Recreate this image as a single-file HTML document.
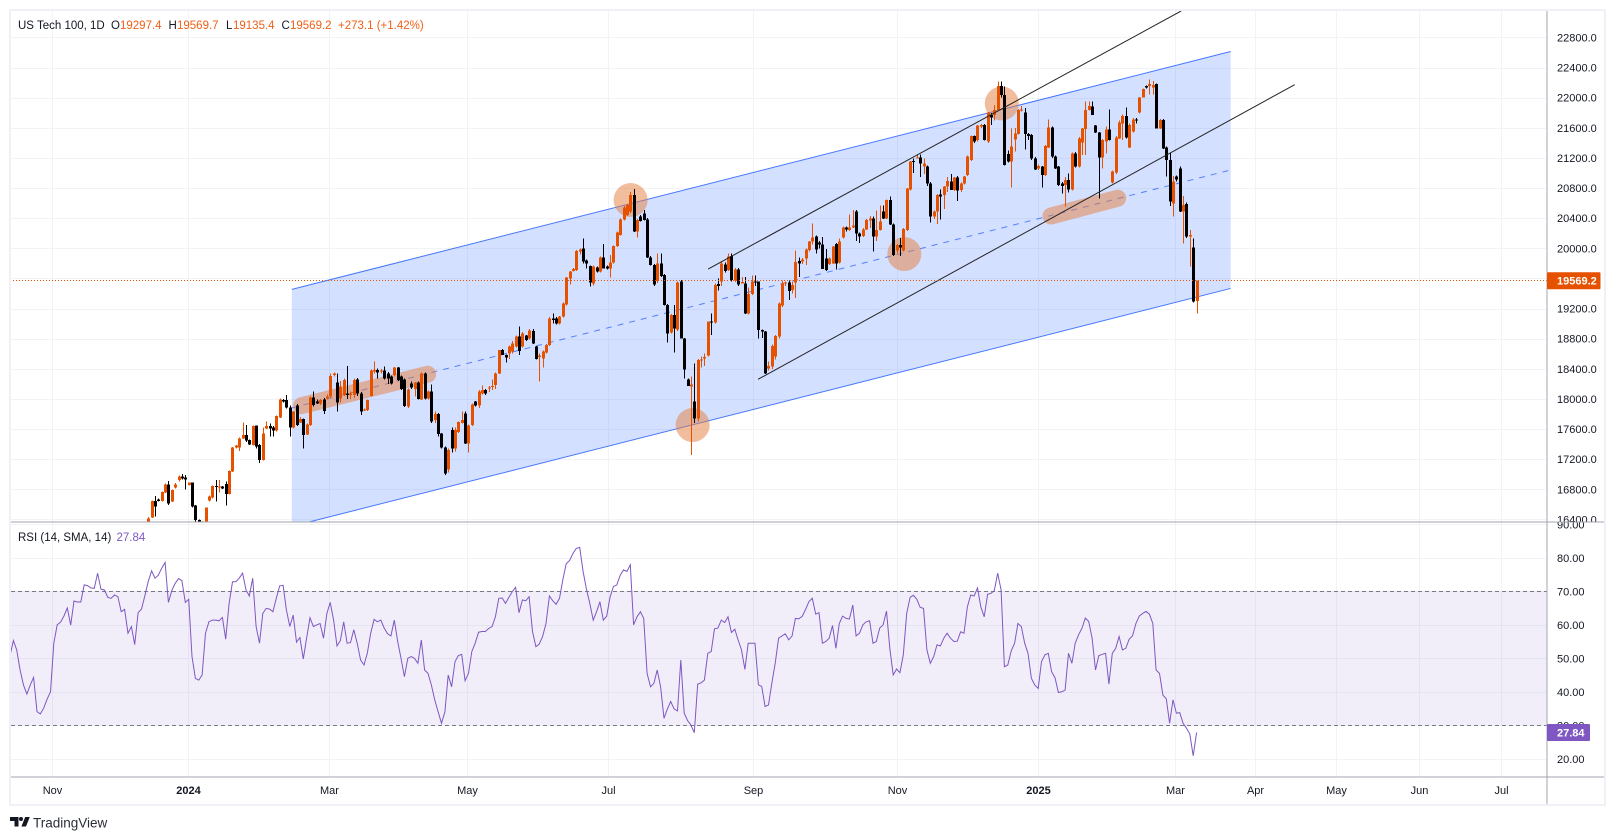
<!DOCTYPE html>
<html lang="en">
<head>
<meta charset="utf-8">
<title>US Tech 100, 1D</title>
<style>
html,body{margin:0;padding:0;background:#fff;width:1615px;height:840px;overflow:hidden}
svg{display:block;font-family:"Liberation Sans",sans-serif}
text{fill:#131722}
</style>
</head>
<body>
<svg id="chart" xmlns="http://www.w3.org/2000/svg" width="1615" height="840" viewBox="0 0 1615 840">
  <defs>
    <clipPath id="priceClip"><rect x="11" y="11" width="1536" height="511"/></clipPath>
    <clipPath id="rsiClip"><rect x="11" y="522" width="1536" height="255"/></clipPath>
    <clipPath id="priceAxisClip"><rect x="1548" y="11" width="56" height="511"/></clipPath>
    <clipPath id="rsiAxisClip"><rect x="1548" y="522" width="56" height="255"/></clipPath>
  </defs>
  <g id="grid"></g>
  <g id="rsiBand" clip-path="url(#rsiClip)"></g>
  <g id="drawings" clip-path="url(#priceClip)"></g>
  <g id="candles" clip-path="url(#priceClip)"></g>
  <g id="trend" clip-path="url(#priceClip)"></g>
  <g id="rsiSeries" clip-path="url(#rsiClip)"></g>
  <g id="priceAxisLabels" clip-path="url(#priceAxisClip)"></g>
  <g id="rsiAxisLabels" clip-path="url(#rsiAxisClip)"></g>
  <g id="timeAxisLabels"></g>

  <line x1="11" y1="522" x2="1604" y2="522" stroke="#a3a6af" stroke-width="1" shape-rendering="crispEdges"/>
  <line x1="11" y1="777" x2="1604" y2="777" stroke="#a3a6af" stroke-width="1" shape-rendering="crispEdges"/>
  <line x1="1547" y1="11" x2="1547" y2="804" stroke="#a3a6af" stroke-width="1" shape-rendering="crispEdges"/>
  <rect x="10" y="10" width="1595" height="795" fill="none" stroke="#eff1f7" stroke-width="2"/>

  <g id="currentLabels"></g>

  <g font-size="11.5">
    <text x="18" y="29">US Tech 100, 1D</text>
    <text x="111" y="29">O</text>
    <text x="120" y="29" style="fill:#ef5f17">19297.4</text>
    <text x="168.5" y="29">H</text>
    <text x="177" y="29" style="fill:#ef5f17">19569.7</text>
    <text x="226" y="29">L</text>
    <text x="233" y="29" style="fill:#ef5f17">19135.4</text>
    <text x="281.5" y="29">C</text>
    <text x="290" y="29" style="fill:#ef5f17">19569.2</text>
    <text x="338" y="29" style="fill:#ef5f17">+273.1 (+1.42%)</text>
  </g>
  <g font-size="11.5">
    <text x="18" y="541">RSI (14, SMA, 14)</text>
    <text x="116.5" y="541" style="fill:#7e57c2">27.84</text>
  </g>
  <g>
    <path d="M10 817h8.5v9.5h-4v-5.5h-4.500z" fill="#131722"/>
    <circle cx="21" cy="819" r="2" fill="#131722"/>
    <polygon points="25.200,817 29.800,817 26,826.500 21.400,826.500" fill="#131722"/>
    <text x="33" y="827.500" font-size="13.500" style="fill:#2a2e39">TradingView</text>
  </g>
</svg>

<script>
/* ---------- chart data ---------- */
const candleStartBar = 41;

const opens = [
16369,16427,16644,16666,16644,16754,16865,16635,16821,16923,
16967,16958,16856,16887,16582,16391,16300,16369,16648,16692,
16843,16821,16834,16870,16737,17038,17352,17356,17476,17520,
17454,17388,17644,17388,17188,17609,17640,17622,17578,17755,
17985,17985,17883,17622,17910,17689,17733,17525,17653,18016,
17963,17941,17994,18004,18030,18317,18215,18007,18052,18074,
18052,18052,18260,18074,17852,17852,18038,18361,18384,18361,
18375,18339,18295,18317,18419,18295,18260,17897,18206,18131,
18215,17994,18339,18007,18096,17720,17799,17542,17356,17060,
17588,17343,17560,17680,17808,17410,17653,17963,17910,18074,
18118,18140,18162,18185,18340,18649,18583,18605,18627,18694,
18827,18694,18840,18804,18902,18694,18555,18539,18614,18716,
19070,19070,19004,19092,19256,19601,19699,19712,19955,20000,
19836,19765,19535,19747,19690,19880,19756,19734,19810,20031,
20177,20385,20442,20487,20708,20221,20420,20464,20385,19880,
19778,19566,19800,19646,19247,18880,19114,18924,19557,18804,
18260,18162,17963,17742,18508,18539,18574,19026,19012,19526,
19557,19787,19712,19898,19570,19720,19535,19535,19136,19393,
19557,19557,18915,18893,18406,18428,18561,18826,19238,19535,
19544,19446,19544,19831,19822,19867,19977,20088,20154,20080,
20053,19867,19792,19800,20057,19809,20145,20278,20243,20278,
20486,20199,20163,20252,20367,20398,20154,20243,20486,20398,
20641,20318,19968,20044,19968,20243,20783,21160,21195,21204,
21084,21084,20863,20420,20486,20717,20708,20819,20885,20775,
20938,20775,20863,20974,21173,21492,21439,21616,21638,21417,
21771,21771,21837,22156,22036,21253,21150,21447,21518,21837,
21806,21518,21505,21195,21062,21084,20974,21341,21602,21217,
21084,20863,20841,20907,20783,21262,21084,21403,21585,21837,
21881,21629,21536,21204,21417,21580,20872,21005,21461,21660,
21757,21337,21550,21713,21802,22005,22156,22156,22138,22182,
21593,21704,21341,21173,20598,20952,21062,20487,20589,20155,
20013,19297.4
];
const highs = [
16430,16650,16710,16680,16770,16875,16909,16800,16880,16980,
17002,16989,16890,16890,16590,16400,16380,16560,16715,16850,
16923,16923,16845,16900,17050,17360,17390,17490,17689,17653,
17460,17650,17650,17400,17620,17700,17675,17640,17780,18007,
18000,18052,17910,17840,17930,17760,17740,17670,18030,18096,
17990,18000,18010,18060,18340,18350,18339,18240,18270,18437,
18100,18270,18280,18090,17870,17990,18390,18494,18406,18400,
18428,18360,18310,18425,18425,18310,18270,18140,18230,18225,
18230,18350,18350,18110,18190,17830,17810,17550,17370,17340,
17620,17620,17700,17830,17830,17660,17940,17975,18120,18180,
18130,18170,18260,18350,18650,18660,18590,18710,18770,18840,
18960,18890,18850,18925,18925,18700,18600,18640,18730,19090,
19135,19090,19100,19280,19620,19700,19740,19980,20000,20132,
19850,19770,19770,19760,19890,20057,19770,19910,20040,20220,
20395,20560,20590,20750,20788,20390,20440,20509,20400,19900,
19790,19930,19933,19660,19260,19125,19250,19560,19580,18810,
18270,18300,18472,18530,18560,18600,19030,19136,19530,19601,
19830,19810,19930,19930,19740,19740,19620,19620,19480,19640,
19640,19560,18920,18900,18500,18720,18850,19280,19570,19560,
19570,19550,19970,19880,19870,20000,20100,20330,20170,20100,
20150,19990,19880,20030,20070,20130,20290,20290,20450,20510,
20510,20210,20270,20390,20430,20420,20500,20570,20570,20650,
20686,20330,20060,20140,20270,20800,21160,21190,21240,21248,
21190,21100,20880,20500,20720,20780,20830,20950,20990,20950,
20960,20875,20960,21230,21500,21500,21640,21650,21650,21810,
21800,21900,22213,22213,22150,21300,21590,21600,21850,21890,
21860,21530,21515,21210,21110,21095,21370,21713,21620,21230,
21095,20880,20950,20996,21270,21280,21480,21600,21947,21947,
21950,21640,21545,21450,21620,21846,21030,21490,21700,21780,
21872,21660,21730,21730,22010,22125,22165,22245,22220,22190,
21715,21715,21355,21270,20960,20965,21085,20695,20610,20240,
20130,19569.7
];
const lows = [
16300,16420,16436,16635,16640,16750,16590,16630,16810,16900,
16930,16799,16850,16560,16340,16280,16280,16360,16640,16680,
16635,16755,16805,16582,16730,17030,17340,17308,17465,17430,
17390,17380,17340,17150,17180,17600,17498,17498,17570,17745,
17950,17870,17498,17610,17640,17680,17343,17520,17640,17900,
17930,17920,17800,17990,18020,18300,17830,17950,18040,18000,
18000,18010,18040,17786,17840,17840,18030,18340,18273,18340,
18260,18200,18190,18300,18240,18120,17890,17880,18130,18030,
17990,17985,17990,17990,17680,17680,17500,17340,16990,17020,
17290,17300,17550,17670,17400,17290,17640,17900,17880,18060,
18050,18090,18120,18130,18330,18580,18481,18530,18600,18680,
18583,18680,18770,18790,18730,18520,18230,18420,18600,18700,
19000,18990,18990,19080,19240,19520,19690,19700,19920,19800,
19730,19495,19505,19680,19680,19730,19720,19610,19800,20020,
20170,20370,20430,20470,20215,20141,20355,20370,19870,19770,
19500,19540,19620,19240,18747,18870,18614,18900,18800,18273,
18170,17255,17680,17700,18420,18440,18560,18849,19000,19440,
19500,19680,19700,19560,19555,19500,19530,19130,19120,19380,
19500,18800,18810,18330,18380,18400,18520,18800,19220,19500,
19313,19400,19340,19620,19790,19780,19960,20050,19930,20000,
19725,19700,19780,19790,19720,19800,20130,20220,20230,20270,
20100,20070,20150,20240,20270,19955,20100,20235,20390,20390,
20310,19900,19930,19900,19960,20230,20770,21000,21190,20950,
20990,20830,20340,20390,20320,20380,20520,20750,20790,20760,
20630,20750,20850,20960,21160,21400,21420,21600,21430,21400,
21640,21700,21830,22000,21100,21140,20805,21284,21510,21820,
21315,21440,21170,21040,21040,20805,20960,21330,21200,21050,
20830,20730,20553,20739,20770,21070,21070,21240,21240,21830,
21770,21530,20664,21060,21260,21430,20860,20990,21450,21440,
21460,21330,21540,21660,21790,22000,22120,22045,22040,21590,
21585,21320,20952,20560,20420,20890,20485,20066,20140,19756,
19280,19135.4
];
const closes = [
16414,16644,16568,16644,16763,16865,16613,16790,16865,16967,
16940,16932,16887,16568,16391,16300,16369,16555,16701,16843,
16830,16834,16812,16737,17042,17356,17379,17476,17520,17445,
17396,17640,17365,17188,17542,17640,17609,17578,17773,17990,
17963,17883,17622,17830,17653,17733,17520,17662,18016,17919,
17941,17985,17839,18030,18304,18339,17950,18162,18250,18052,
18074,18251,18074,17830,17861,17985,18375,18384,18348,18375,
18273,18273,18207,18419,18251,18131,17905,18127,18153,18215,
18000,18339,18007,18096,17697,17799,17534,17356,17011,17320,
17343,17588,17690,17720,17410,17650,17928,17910,18096,18118,
18074,18154,18171,18340,18649,18583,18548,18694,18738,18827,
18636,18871,18782,18906,18738,18530,18575,18627,18716,19070,
19048,19004,19092,19269,19610,19690,19725,19964,19986,19823,
19800,19544,19756,19690,19880,19734,19734,19810,20031,20208,
20385,20544,20575,20708,20221,20376,20363,20376,19876,19778,
19522,19800,19632,19247,18871,19114,18937,19548,18804,18393,
18171,18193,17742,18517,18525,18555,19026,19012,19513,19500,
19800,19699,19889,19579,19720,19522,19550,19136,19393,19557,
19545,18915,18893,18340,18437,18702,18835,19270,19535,19548,
19433,19512,19820,19800,19853,19986,20088,20145,19986,20053,
19725,19712,19867,20022,19800,20088,20278,20252,20278,20300,
20199,20154,20252,20376,20398,20154,20243,20354,20398,20641,
20318,19911,20044,20013,20256,20796,21150,21150,21204,21128,
21128,20863,20420,20486,20708,20686,20819,20893,20775,20938,
20765,20863,20951,21217,21492,21417,21629,21638,21439,21801,
21740,21837,22156,22036,21107,21150,21350,21527,21837,21846,
21518,21492,21195,21049,21093,20974,21359,21602,21217,21062,
20841,20828,20907,20783,21262,21084,21461,21593,21837,21890,
21771,21536,21204,21439,21580,21439,21018,21474,21673,21757,
21470,21640,21713,21704,22005,22116,22134,22182,22170,21593,
21704,21328,21173,20620,20885,20916,20487,20575,20155,20177,
19291,19569.2
];

const rsiValues = [
50.8,55.3,52.5,46.5,42,39.3,42,44.3,34.1,33.4,
35.1,37.8,40,54.5,60,60.8,62.6,65,59.9,67.1,
66.8,66.8,71.9,71.7,71,70.9,75.4,70.6,70.4,68.2,
67.9,68.9,68.4,63.9,64.6,57.5,59.5,54.1,63.6,64.7,
68.6,72.9,76.1,73.9,74.8,76.9,78.6,66.7,70.2,72.4,
73.8,73.2,66.7,67.6,50.5,44,43.5,45,57.5,60.9,
61.4,61.4,61.2,62.2,55.7,66.4,72.8,72.9,73.9,75.4,
70.4,68.6,73.9,59.5,54.5,63.4,64.9,64.7,63.9,67.9,
71.6,71.8,64.4,59.5,62.9,54.8,56.2,49.8,56,62.1,
59.5,60,60.4,56,63.4,66.7,61.4,53.7,55.3,60.9,
54.5,54.7,58.5,54.5,49.5,48,51.5,57.5,61.6,60.9,
61.4,59,57.3,56.7,61.4,55,50,44.5,50,50.5,
50,48.5,55.5,46.5,45.5,42,37.6,34.1,30.6,34,
45,41.5,49,50.8,51.2,43.3,45.5,52,54.5,57.8,
58,58,58.9,59.5,62.4,67.9,68,66.4,68.2,69.9,
71.2,63.6,67.4,67.2,68.4,58,53.5,54.2,56.5,60.4,
68.6,67.2,66.1,67.9,73.4,78.2,79.2,81.3,82.8,83.1,
75.9,70.7,66.4,61.4,63.9,66.9,
61.4,62.6,68.2,71.4,71.9,74.8,76.4,75.9,77.9,60,
62.4,63.9,61.9,45.5,41.5,42.5,46.5,41.5,32.1,34.8,
37.1,34.9,34.3,49.5,33.6,31.4,30.1,27.8,42.3,42.7,
43.5,51.5,52,58.8,59,61.4,60.7,62.4,57.7,58.7,
55.5,52.5,46.7,54.5,54.5,54.5,42.1,41.6,35.6,36.1,
42.5,48.5,56,56.7,57.3,55.5,56.7,61.9,61.8,62.5,
64.6,66.9,67.9,63.2,63.6,54.5,55,56,59.8,53,
60.4,62.6,61.9,61.7,65.9,56.7,57.5,60,60.9,61.2,
54.5,55,59,60,64.1,53,45,46.8,45.7,51,
63.4,68.2,68.8,67.6,65.2,64.9,52.5,48.5,50.5,54,
53.7,56,57.5,56,55,55.1,57.9,57.5,65.4,68.9,
68.6,71,65.4,62.4,69.1,69.4,70.2,75.4,70.4,47.5,
48,52.2,54.5,60.4,59.5,54.5,51.5,44,42,41,
49,51,51.5,46,44.2,39.8,40,40.5,51.5,48.5,
54.5,57,59,62,61,56,46.5,50.8,51.2,51.5,
42.3,51.5,53,56.5,52.5,53,55.7,56.7,60.4,62.6,
63.4,64,63.2,60.4,46.5,45.5,39,37.9,30.6,37.6,
33.6,33.8,30.6,29.1,27.4,20.9,27.84
];

const priceTicks = [22800,22400,22000,21600,21200,20800,20400,20000,19600,19200,18800,18400,18000,17600,17200,16800,16400];
const rsiTicks = [90,80,70,60,50,40,30,20];
const rsiLevels = [70,30];
const timeLabels = ["Nov","2024","Mar","May","Jul","Sep","Nov","2025","Mar","Apr","May","Jun","Jul"];
const timeTickBars = [12.55,52.95,94.6,135.5,177.5,220.3,263,304.9,345.7,369.3,393.3,418,442.3];
const timeBold = ["2024","2025"];

const lastPrice = 19569.2;
const lastRsi = 27.84;

/* drawings: anchored in bar index / price */
const channelBars = [83.6,362.1];
const channelTop = [19454,22613];
const channelBottom = [16307,19467];
const trendLineA = {bars:[207.1,347.4], prices:[19725,23151]};
const trendLineB = {bars:[221.9,381.1], prices:[18260,22173]};
const highlightBars = [184.1,202.5,265.3,294.2];
const highlightPrices = [20641,17653,19924,21924];
const stripeA = {bars:[86.5,123.9], prices:[17910,18327]};
const stripeB = {bars:[308.8,328.6], prices:[20429,20665]};

/* ---------- axis functions ---------- */
function xBar(i){ return 10 + 3.371 * i; }
function yPrice(p){ return 248.3 + (20000 - p) * 0.0753; }
function yRsi(r){ return 591.3 + (70 - r) * 3.35; }

const NS = "http://www.w3.org/2000/svg";
function make(tag, parent, attrs){
  const node = document.createElementNS(NS, tag);
  for (const k in attrs) node.setAttribute(k, attrs[k]);
  parent.appendChild(node);
  return node;
}
const gGrid = document.getElementById("grid");
const gBand = document.getElementById("rsiBand");
const gDraw = document.getElementById("drawings");
const gCandles = document.getElementById("candles");
const gTrend = document.getElementById("trend");
const gRsi = document.getElementById("rsiSeries");
const gPriceAxis = document.getElementById("priceAxisLabels");
const gRsiAxis = document.getElementById("rsiAxisLabels");
const gTimeAxis = document.getElementById("timeAxisLabels");
const gCurrent = document.getElementById("currentLabels");
const GRID = "#f2f3f7";

/* ---------- grid and axis labels ---------- */
priceTicks.forEach(function(p){
  const y = Math.round(yPrice(p)) + 0.5;
  const gl = make("line", gGrid, {x1:11, x2:1547, y1:y, y2:y, stroke:GRID, "stroke-width":1, "shape-rendering":"crispEdges"});
  
  
  const t = make("text", gPriceAxis, {x:1557, y:yPrice(p)+4, "font-size":11});
  t.textContent = p.toFixed(1);
  
  
});
rsiTicks.forEach(function(r){
  const y = Math.round(yRsi(r)) + 0.5;
  const gl = make("line", gGrid, {x1:11, x2:1547, y1:y, y2:y, stroke:GRID, "stroke-width":1, "shape-rendering":"crispEdges"});
  
  
  const t = make("text", gRsiAxis, {x:1557, y:yRsi(r)+4, "font-size":11});
  t.textContent = r.toFixed(2);
  
  
});
timeTickBars.forEach(function(b, i){
  const x = Math.round(xBar(b)) + 0.5;
  const gl = make("line", gGrid, {x1:x, x2:x, y1:11, y2:777, stroke:GRID, "stroke-width":1, "shape-rendering":"crispEdges"});
  
  
  const bold = timeBold.indexOf(timeLabels[i]) >= 0;
  const t = make("text", gTimeAxis, {x:x, y:794, "font-size":11, "text-anchor":"middle", "font-weight":bold?"bold":"normal"});
  t.textContent = timeLabels[i];
  
  
});

/* ---------- drawings ---------- */
const chanL = xBar(channelBars[0]), chanR = xBar(channelBars[1]);
const channelFill = make("polygon", gDraw, {
  points: chanL+","+yPrice(channelTop[0])+" "+chanR+","+yPrice(channelTop[1])+" "+chanR+","+yPrice(channelBottom[1])+" "+chanL+","+yPrice(channelBottom[0]),
  fill:"#2962ff", "fill-opacity":0.2
});


const channelUpper = make("line", gDraw, {x1:chanL, y1:yPrice(channelTop[0]), x2:chanR, y2:yPrice(channelTop[1]), stroke:"#2962ff", "stroke-width":1, "stroke-opacity":0.85});


const channelLower = make("line", gDraw, {x1:chanL, y1:yPrice(channelBottom[0]), x2:chanR, y2:yPrice(channelBottom[1]), stroke:"#2962ff", "stroke-width":1, "stroke-opacity":0.85});


const channelMid = make("line", gDraw, {x1:chanL, y1:yPrice((channelTop[0]+channelBottom[0])/2), x2:chanR, y2:yPrice((channelTop[1]+channelBottom[1])/2), stroke:"#2962ff", "stroke-width":1, "stroke-opacity":0.75, "stroke-dasharray":"6 6"});



highlightBars.forEach(function(b, i){
  const c = make("circle", gDraw, {cx:xBar(b), cy:yPrice(highlightPrices[i]), r:17, fill:"#e37b3b", "fill-opacity":0.5});
  
  
});
[stripeA, stripeB].forEach(function(s){
  const l = make("line", gDraw, {x1:xBar(s.bars[0]), y1:yPrice(s.prices[0]), x2:xBar(s.bars[1]), y2:yPrice(s.prices[1]), stroke:"#e37b3b", "stroke-opacity":0.5, "stroke-width":17, "stroke-linecap":"round"});
  
  
});

/* ---------- candles ---------- */
closes.forEach(function(c, k){
  const o = opens[k], h = highs[k], l = lows[k];
  const up = c >= o;
  const col = up ? "#e65100" : "#000000";
  const cx = Math.round(xBar(candleStartBar + k));
  const yHigh = yPrice(Math.max(h, o, c)), yLow = yPrice(Math.min(l, o, c));
  const yTop = yPrice(Math.max(o, c)), yBot = yPrice(Math.min(o, c));
  const wick = make("rect", gCandles, {x:cx, y:yHigh, width:1, height:Math.max(1, yLow-yHigh), fill:col, "shape-rendering":"crispEdges"});
  
  
  const body = make("rect", gCandles, {x:cx-1, y:yTop, width:3, height:Math.max(1, yBot-yTop), fill:col, "shape-rendering":"crispEdges"});
  
  
});

/* ---------- trend lines ---------- */
[trendLineA, trendLineB].forEach(function(s){
  const l = make("line", gTrend, {x1:xBar(s.bars[0]), y1:yPrice(s.prices[0]), x2:xBar(s.bars[1]), y2:yPrice(s.prices[1]), stroke:"#222222", "stroke-width":1});
  
  
});

/* ---------- current price line and label ---------- */
const py = Math.floor(yPrice(lastPrice)) + 0.5;
const priceLine = make("line", gTrend, {x1:10, x2:1547, y1:py, y2:py, stroke:"#e65100", "stroke-width":1, "stroke-dasharray":"1 2"});


const priceBox = make("rect", gCurrent, {x:1547, y:yPrice(lastPrice)-8.5, width:53.5, height:17, fill:"#e65100", rx:1});


const priceTxt = make("text", gCurrent, {x:1557, y:yPrice(lastPrice)+4, "font-size":11, "font-weight":"bold", style:"fill:#ffffff"});
priceTxt.textContent = lastPrice.toFixed(1);



/* ---------- RSI pane ---------- */
const bandRect = make("rect", gBand, {x:11, y:yRsi(rsiLevels[0]), width:1536, height:yRsi(rsiLevels[1])-yRsi(rsiLevels[0]), fill:"#7e57c2", "fill-opacity":0.1});


rsiLevels.forEach(function(r){
  const y = Math.round(yRsi(r)) + 0.5;
  const l = make("line", gBand, {x1:11, x2:1547, y1:y, y2:y, stroke:"#787b86", "stroke-width":1, "stroke-dasharray":"4 3", "shape-rendering":"crispEdges"});
  
  
});
const rsiPath = make("polyline", gRsi, {
  points: rsiValues.map(function(r, i){ return xBar(i).toFixed(1)+","+yRsi(r).toFixed(1); }).join(" "),
  fill:"none", stroke:"#7e57c2", "stroke-width":1
});



const rsiBox = make("rect", gCurrent, {x:1547, y:yRsi(lastRsi)-8.5, width:43, height:17, fill:"#7e57c2", rx:1});


const rsiTxt = make("text", gCurrent, {x:1557, y:yRsi(lastRsi)+4, "font-size":11, "font-weight":"bold", style:"fill:#ffffff"});
rsiTxt.textContent = lastRsi.toFixed(2);


</script>
</body>
</html>
